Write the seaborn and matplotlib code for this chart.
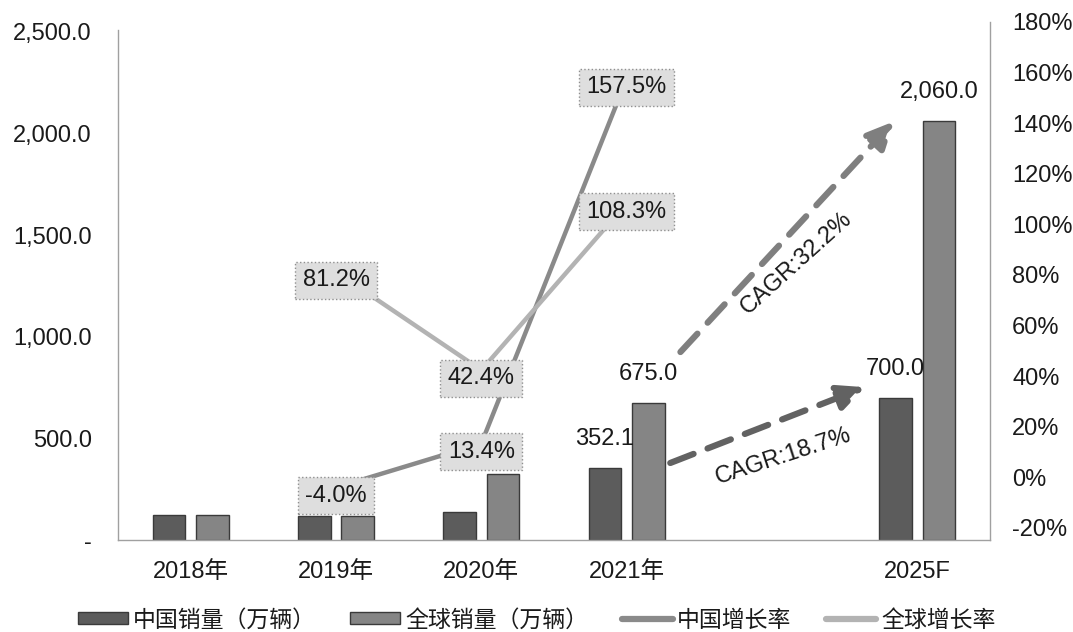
import matplotlib
matplotlib.use('Agg')
import matplotlib.pyplot as plt
import seaborn as sns
import pandas as pd
from matplotlib.patches import Patch
from matplotlib.lines import Line2D
from matplotlib.ticker import FuncFormatter, FixedLocator

# ---------------- data ----------------
years = ['2018年', '2019年', '2020年', '2021年', '2025F']
axis_order = ['2018年', '2019年', '2020年', '2021年', ' ', '2025F']
china_sales = [124.0, 118.0, 140.0, 352.1, 700.0]
global_sales = [124.0, 118.0, 326.0, 675.0, 2060.0]
labeled_years = ['2021年', '2025F']

growth_years = ['2019年', '2020年', '2021年']
china_growth = [-4.0, 13.4, 157.5]
global_growth = [81.2, 42.4, 108.3]

series_names = ['中国销量（万辆）', '全球销量（万辆）']
line_names = ['中国增长率', '全球增长率']
left_ticks = [0, 500, 1000, 1500, 2000, 2500]
right_ticks = [-20, 0, 20, 40, 60, 80, 100, 120, 140, 160, 180]

# ---------------- style ----------------
sns.set_theme(style='white')
plt.rcParams['font.family'] = ['Liberation Sans', 'Noto Sans CJK SC', 'DejaVu Sans']
plt.rcParams['axes.unicode_minus'] = False

c_china_bar = '#5c5c5c'
c_global_bar = '#858585'
c_china_line = '#8a8a8a'
c_global_line = '#b3b3b3'
c_spine = '#a0a0a0'

fig = plt.figure(figsize=(10.73, 6.32), dpi=100)
ax = fig.add_axes([118 / 1073, 1 - 540 / 632, (990 - 118) / 1073, (540 - 22) / 632])

df = pd.DataFrame({
    'year': years * 2,
    'series': [series_names[0]] * len(years) + [series_names[1]] * len(years),
    'value': china_sales + global_sales,
})

sns.barplot(data=df, x='year', y='value', hue='series', order=axis_order,
            hue_order=series_names, palette=[c_china_bar, c_global_bar],
            width=0.6, gap=0.25, edgecolor='#3a3a3a', linewidth=1.0,
            saturation=1, legend=False, ax=ax)

ax.set_xlim(-0.5, 5.5)
ax.set_ylim(0, 2549)
ax.yaxis.set_major_locator(FixedLocator(left_ticks))
ax.yaxis.set_major_formatter(FuncFormatter(lambda v, p: '-' if v == 0 else f'{v:,.1f}'))
ax.set_xlabel('')
ax.set_ylabel('')
ax.tick_params(axis='y', length=0, pad=19, labelsize=17, colors='#1a1a1a')
ax.tick_params(axis='x', length=0, pad=15, labelsize=17, colors='#1a1a1a')
for s in ['top', 'right']:
    ax.spines[s].set_visible(False)
for s in ['left', 'bottom']:
    ax.spines[s].set_color(c_spine)
    ax.spines[s].set_linewidth(1.0)
ax.spines['left'].set_bounds(0, 2510)

# bar value labels (only for 2021 and 2025F)
for cont in ax.containers:
    labs = []
    for bar in cont:
        idx = int(round(bar.get_x() + bar.get_width() / 2))
        yr = axis_order[idx]
        labs.append(f'{bar.get_height():,.1f}' if yr in labeled_years else '')
    ax.bar_label(cont, labels=labs, padding=13, fontsize=17, color='#1a1a1a')

# ---------------- growth lines ----------------
ax2 = ax.twinx()
gpos = [axis_order.index(y) for y in growth_years]
gdf = pd.DataFrame({
    'pos': gpos * 2,
    'rate': china_growth + global_growth,
    'kind': [line_names[0]] * 3 + [line_names[1]] * 3,
})
sns.lineplot(data=gdf, x='pos', y='rate', hue='kind', hue_order=line_names,
             palette=[c_china_line, c_global_line], linewidth=3.2,
             legend=False, ax=ax2)
ax2.set_ylim(-24.75, 180)
ax2.set_xlim(-0.5, 5.5)
ax2.yaxis.set_major_locator(FixedLocator(right_ticks))
ax2.yaxis.set_major_formatter(FuncFormatter(lambda v, p: f'{v:.0f}%'))
ax2.set_ylabel('')
ax2.set_xlabel('')
ax2.tick_params(axis='y', length=0, pad=16, labelsize=17, colors='#1a1a1a')
for s in ['top', 'left', 'bottom']:
    ax2.spines[s].set_visible(False)
ax2.spines['right'].set_color(c_spine)
ax2.spines['right'].set_linewidth(1.0)

box = dict(boxstyle='square,pad=0.32', fc='#dedede', ec='#8f8f8f', ls=':', lw=1.0)
for p, v in zip(gpos, china_growth):
    ax2.annotate(f'{v:.1f}%', xy=(p, v), xytext=(0, -6), textcoords='offset points',
                 ha='center', va='center', fontsize=17, color='#1a1a1a', bbox=box, zorder=5)
for p, v in zip(gpos, global_growth):
    ax2.annotate(f'{v:.1f}%', xy=(p, v), xytext=(0, -6), textcoords='offset points',
                 ha='center', va='center', fontsize=17, color='#1a1a1a', bbox=box, zorder=5)

# ---------------- CAGR arrows ----------------
arrow_style = '-|>,head_length=0.8,head_width=0.38'
ax.annotate('', xy=(4.64, 752), xytext=(3.30, 379),
            arrowprops=dict(arrowstyle=arrow_style, mutation_scale=20,
                            lw=4.5, ls=(0, (4.0, 2.4)), color='#626262',
                            shrinkA=0, shrinkB=0))
ax.annotate('', xy=(4.84, 2060), xytext=(3.37, 925),
            arrowprops=dict(arrowstyle=arrow_style, mutation_scale=20,
                            lw=4.5, ls=(0, (4.0, 2.4)), color='#7f7f7f',
                            shrinkA=0, shrinkB=0))
ax.text(4.076, 409, 'CAGR:18.7%', rotation=18, ha='center', va='center',
        fontsize=17, color='#1a1a1a', rotation_mode='anchor')
ax.text(4.17, 1364, 'CAGR:32.2%', rotation=42, ha='center', va='center',
        fontsize=17, color='#1a1a1a', rotation_mode='anchor')

# ---------------- legend ----------------
handles = [
    Patch(facecolor=c_china_bar, edgecolor='#3a3a3a', linewidth=1.0),
    Patch(facecolor=c_global_bar, edgecolor='#3a3a3a', linewidth=1.0),
    Line2D([0], [0], color=c_china_line, lw=4.5),
    Line2D([0], [0], color=c_global_line, lw=4.5),
]
fig.legend(handles, series_names + line_names, loc='center', bbox_to_anchor=(0.5, 0.019),
           ncol=4, frameon=False, fontsize=16.5, handlelength=2.2, handleheight=0.45,
           handletextpad=0.2, columnspacing=1.5, labelcolor='#1a1a1a')

fig.savefig('out.png', dpi=100)
